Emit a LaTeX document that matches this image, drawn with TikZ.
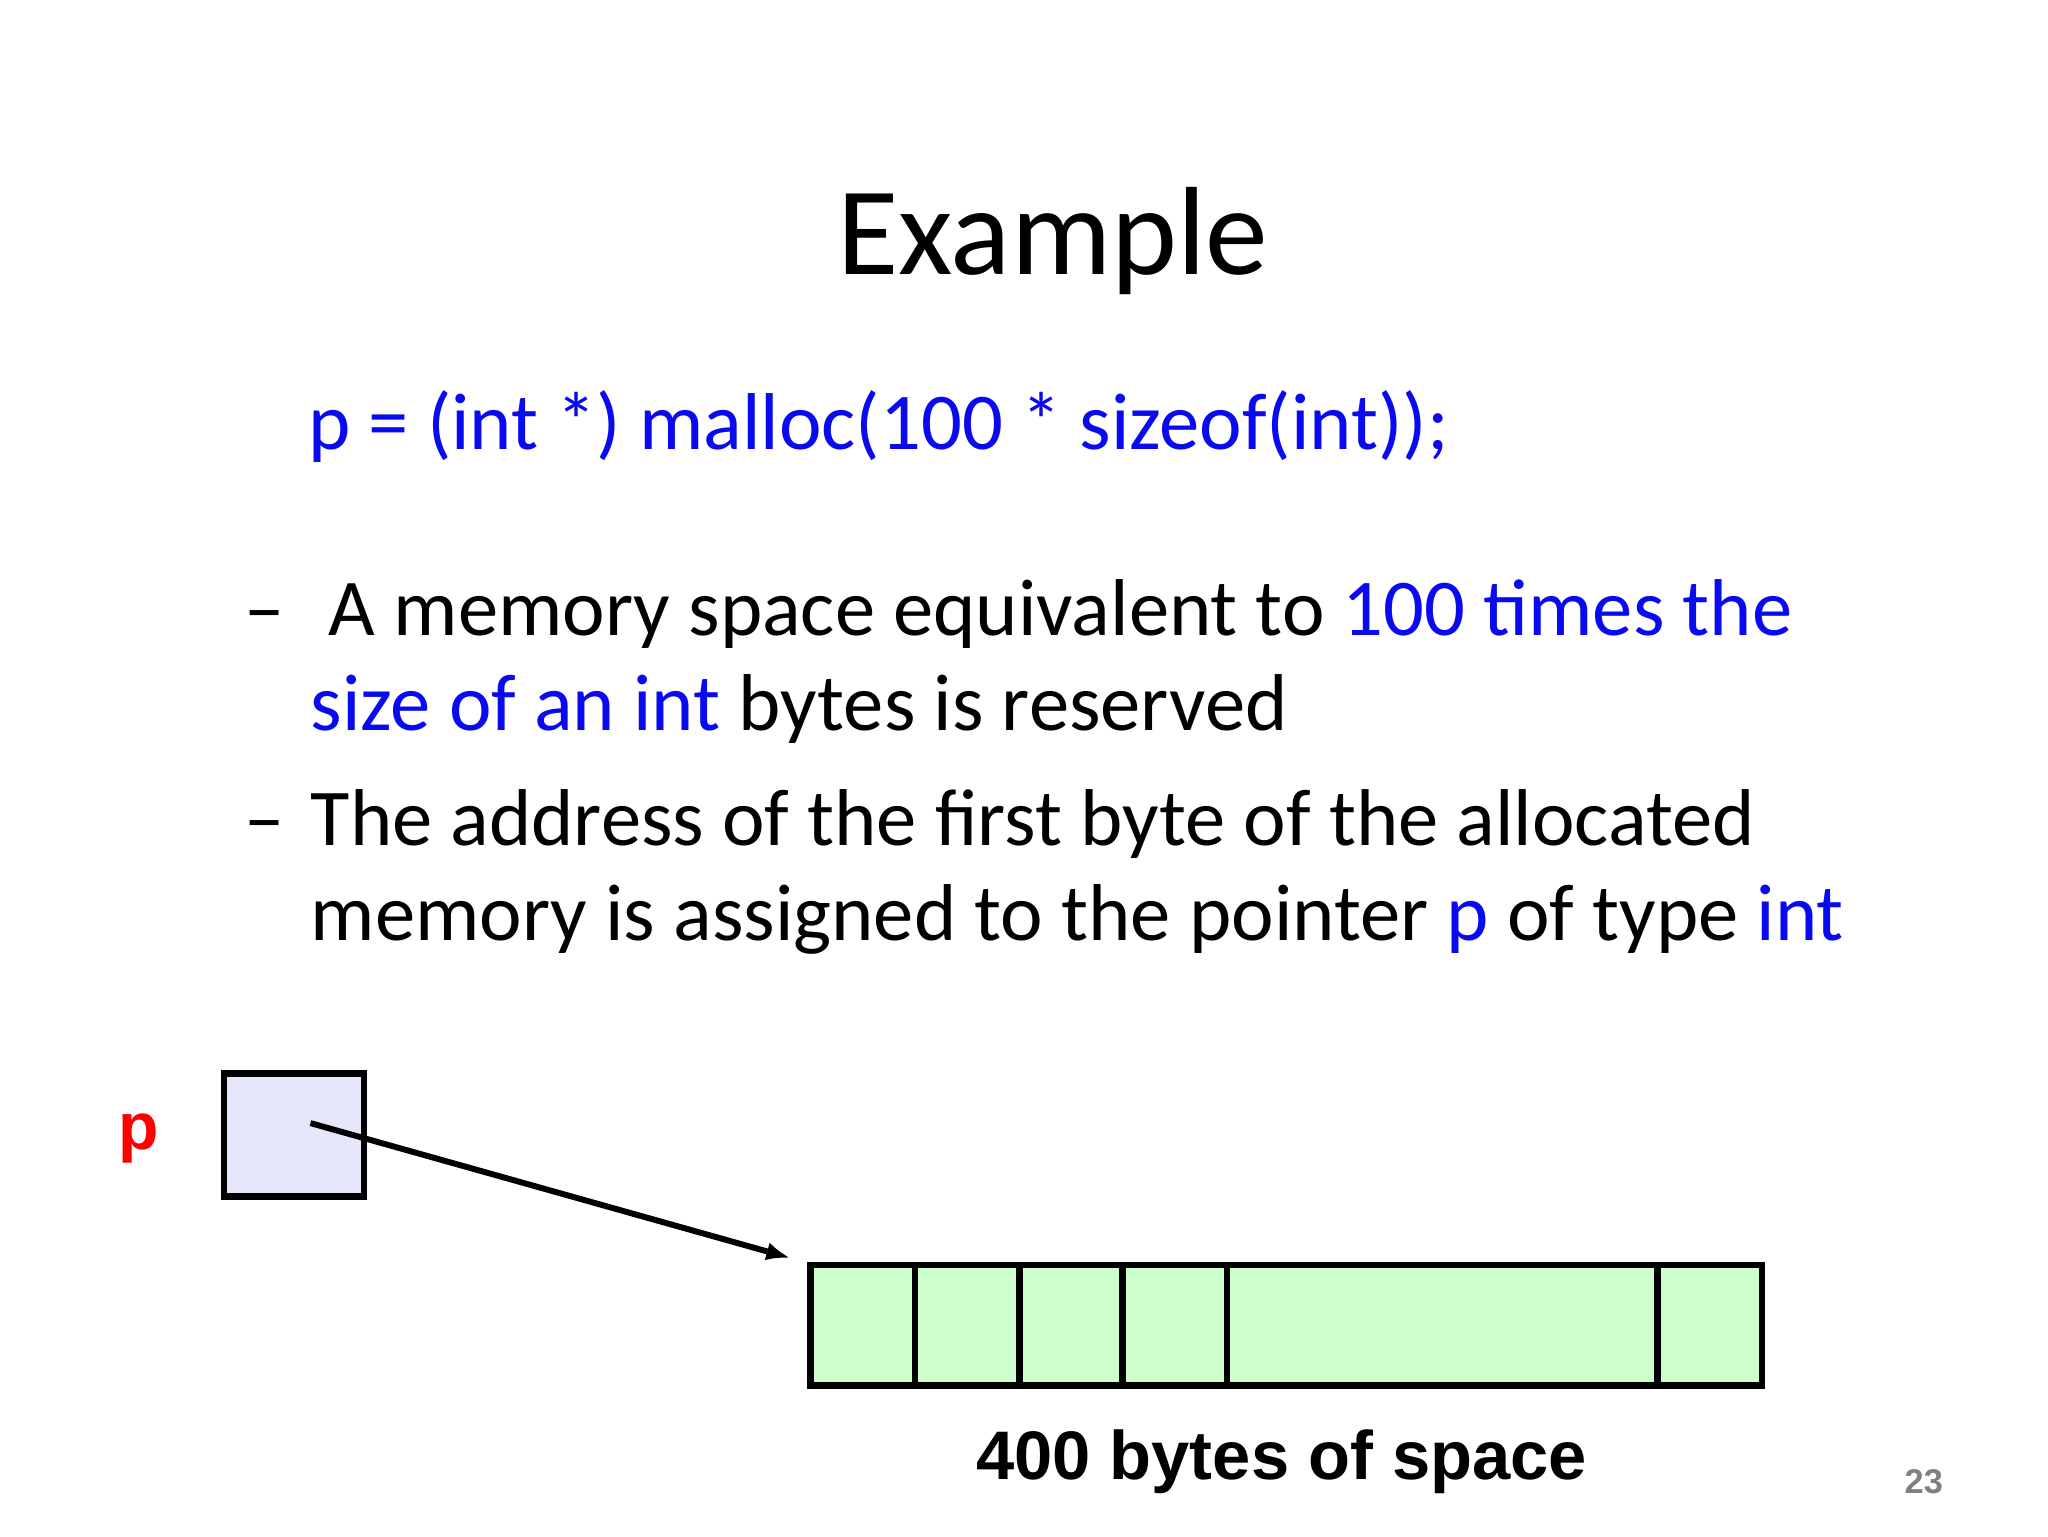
\documentclass[tikz,border=0pt]{standalone}
\usepackage{fontspec}
\usetikzlibrary{arrows.meta}
\setmainfont{Carlito}
\newfontfamily\arialf{Liberation Sans}
\definecolor{codeblue}{RGB}{10,10,240}
\definecolor{lav}{RGB}{230,230,250}
\definecolor{mint}{RGB}{204,255,204}
\begin{document}
\begin{tikzpicture}[x=1pt,y=-1pt,
  txt/.style={anchor=base west,inner sep=0pt,font=\fontsize{61}{70}\selectfont},
  cell/.style={draw=black,line width=5pt,fill=mint,minimum height=91pt,inner sep=0pt,anchor=north west}]
\useasboundingbox (0,0) rectangle (1550,1162.5);
\node[anchor=base,inner sep=0pt,font=\fontsize{95}{110}\selectfont] (title) at (797,208) {Example};
\node[txt,text=codeblue] (code) at (233,340) {p = (int *) malloc(100 * sizeof(int));};
\node[txt] (d1) at (185,481) {–};
\node[txt] (l1) at (235,481) {\ A memory space equivalent to \textcolor{codeblue}{100 times the}};
\node[txt] (l2) at (235,553) {\textcolor{codeblue}{size of an int} bytes is reserved};
\node[txt] (d2) at (185,640) {–};
\node[txt] (l3) at (235,640) {The address of the first byte of the allocated};
\node[txt] (l4) at (235,712) {memory is assigned to the pointer \textcolor{codeblue}{p} of type \textcolor{codeblue}{int}};
\node[anchor=base,inner sep=0pt,text=red,font=\arialf\bfseries\fontsize{50}{60}\selectfont] (plab) at (105,870) {p};
\node[draw=black,line width=5pt,fill=lav,minimum width=106pt,minimum height=93pt,inner sep=0pt,anchor=north west] (pbox) at (167,810) {};
\node[cell,minimum width=79pt] (c1) at (611,955) {};
\node[cell,minimum width=79pt] (c2) at (690,955) {};
\node[cell,minimum width=78pt] (c3) at (769,955) {};
\node[cell,minimum width=79pt] (c4) at (847,955) {};
\node[cell,minimum width=326pt] (c5) at (926,955) {};
\node[cell,minimum width=79pt] (c6) at (1252,955) {};
\coordinate (pstart) at (235,850);
\coordinate (pend) at (598,952);
\draw[line width=4.5pt,-{Latex[length=18pt,width=14pt]}] (pstart) -- (pend);
\node[anchor=base,inner sep=0pt,font=\arialf\bfseries\fontsize{52}{60}\selectfont] (lab) at (970,1120) {400 bytes of space};
\node[anchor=base,inner sep=0pt,text=gray,font=\arialf\bfseries\fontsize{26}{30}\selectfont] (pg) at (1456,1130) {23};
\end{tikzpicture}
\end{document}
